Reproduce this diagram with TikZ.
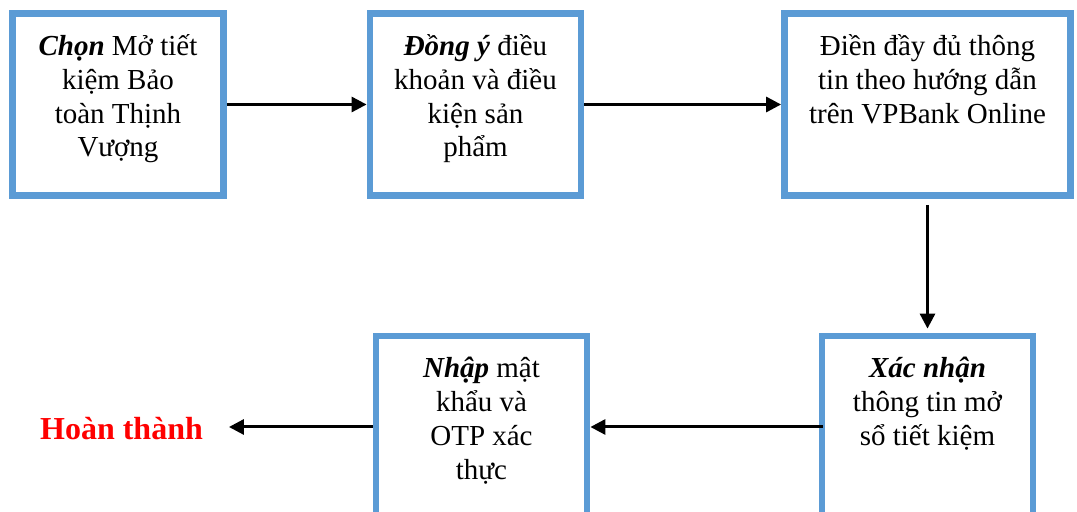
\documentclass[tikz,border=0pt]{standalone}
\usepackage{fontspec}
\setmainfont{Liberation Serif}
\usepackage{xcolor}
\usetikzlibrary{arrows.meta}
\definecolor{boxblue}{HTML}{5B9BD5}

\begin{document}
\begin{tikzpicture}[x=0.5pt, y=-0.5pt]
    % Define node styles
    \tikzstyle{box} = [rectangle, draw=boxblue, line width=3.4pt, minimum width=105.5pt, minimum height=91pt]
    \tikzstyle{widebox} = [box, minimum width=143pt]
    \tikzstyle{label} = [anchor=north, align=center, inner sep=0pt, font=\fontsize{14.5}{16.9}\selectfont]
    \tikzstyle{edge} = [-{Triangle[length=7.5pt, width=7.5pt]}, line width=1.5pt]

    \clip (0,0) rectangle (1077,512);

    % Boxes - top row runs right, bottom row runs left
    \node[box] (chon) at (118,104.5) {};
    \node[box] (dong) at (475.5,104.5) {};
    \node[widebox] (dien) at (927.5,104.5) {};
    \node[box] (xacnhan) at (927.5,427) {};
    \node[box] (nhap) at (481.5,427) {};

    % Texts in the boxes
    \node[label] (chont) at ([yshift=-9.5pt]chon.north) {\rule{0pt}{13pt}\textbf{\textit{Chọn}} Mở tiết\\kiệm Bảo\\toàn Thịnh\\Vượng};
    \node[label] (dongt) at ([yshift=-9.5pt]dong.north) {\rule{0pt}{13pt}\textbf{\textit{Đồng ý}} điều\\khoản và điều\\kiện sản\\phẩm};
    \node[label] (dient) at ([yshift=-9.5pt]dien.north) {\rule{0pt}{13pt}Điền đầy đủ thông\\tin theo hướng dẫn\\trên VPBank Online};
    \node[label] (xacnhant) at ([yshift=-9.5pt]xacnhan.north) {\rule{0pt}{13pt}\textbf{\textit{Xác nhận}}\\thông tin mở\\sổ tiết kiệm};
    \node[label] (nhapt) at ([yshift=-9.5pt]nhap.north) {\rule{0pt}{13pt}\textbf{\textit{Nhập}} mật\\khẩu và\\OTP xác\\thực};

    % End
    \node[font=\bfseries\fontsize{16}{19}\selectfont, text=red] (done) at (121.5,429) {Hoàn thành};

    % Flow
    \draw[edge] (chon) -- (dong);
    \draw[edge] (dong) -- (dien);
    \draw[edge, shorten <=3pt, shorten >=2pt] (dien) -- (xacnhan);
    \draw[edge] ([xshift=2pt]xacnhan.west) -- (nhap.east);
    \draw[edge, shorten >=9.5pt] (nhap.west) -- (done.east |- nhap.west);
\end{tikzpicture}
\end{document}
